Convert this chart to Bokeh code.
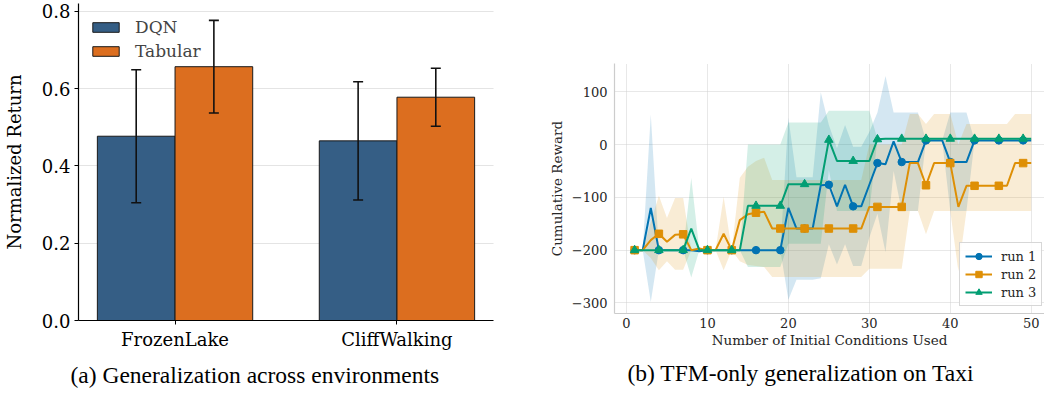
from bokeh.plotting import figure
from bokeh.layouts import row, column
from bokeh.models import (ColumnDataSource, Whisker, TeeHead, Range1d, FixedTicker,
                          PrintfTickFormatter, Title)
from bokeh.embed import file_html
from bokeh.resources import INLINE

# ---------------- data: panel (a) ----------------
envs = ["FrozenLake", "CliffWalking"]
dqn_mean = [0.477, 0.465]
dqn_err = [0.172, 0.153]
tab_mean = [0.657, 0.578]
tab_err = [0.120, 0.075]
a_yticks = [0.0, 0.2, 0.4, 0.6, 0.8]

# ---------------- data: panel (b) ----------------
n_used = list(range(1, 51))
run1 = [-200, -200, -120, -200, -200, -200, -200, -200, -202, -200,
        -200, -200, -200, -200, -200, -200, -200, -200, -200, -120,
        -159, -159, -159, -77, -76, -117, -76, -117, -117, -76,
        -35, -37, 6, -33, -33, -33, 8, 8, 8, -33,
        -33, -33, 8, 8, 8, 8, 8, 8, 8, 8]
run1_lo = [-200, -200, -298, -200, -200, -200, -200, -200, -202, -200,
           -200, -200, -200, -200, -200, -200, -200, -200, -200, -294,
           -256, -256, -256, -253, -189, -227, -189, -230, -230, -176,
           -131, -204, -50, -126, -126, -126, 8, 8, 8, -126,
           -126, -126, 8, 8, 8, 8, 8, 8, 8, 8]
run1_hi = [-200, -200, 57, -200, -200, -200, -200, -200, -202, -200,
           -200, -200, -200, -200, -200, -200, -200, -200, -200, 51,
           -62, -62, -62, 99, 37, -7, 37, -4, -4, 24,
           61, 130, 61, 61, 61, 61, 8, 8, 8, 61,
           61, 61, 8, 8, 8, 8, 8, 8, 8, 8]
run2 = [-200, -200, -181, -169, -184, -171, -170, -200, -197, -200,
        -200, -169, -200, -143, -132, -129, -127, -159, -159, -159,
        -159, -159, -159, -159, -159, -159, -159, -159, -159, -118,
        -118, -118, -118, -118, -35, -35, -77, -35, -35, -35,
        -118, -78, -78, -78, -78, -78, -78, -35, -35, -35]
run2_lo = [-200, -200, -215, -238, -221, -237, -237, -200, -197, -200,
           -200, -238, -200, -221, -228, -230, -232, -251, -251, -251,
           -251, -251, -251, -251, -251, -251, -251, -251, -251, -235,
           -235, -235, -235, -235, -126, -126, -170, -126, -126, -126,
           -240, -126, -126, -126, -126, -126, -126, -126, -126, -126]
run2_hi = [-200, -200, -147, -97, -139, -101, -101, -200, -197, -200,
           -200, -99, -200, -63, -42, -31, -25, -67, -67, -67,
           -67, -67, -67, -67, -67, -67, -67, -67, -67, 0,
           0, 0, 0, 0, 58, 58, 39, 58, 58, 58,
           0, 39, 39, 39, 39, 39, 39, 58, 58, 58]
run3 = [-200, -200, -200, -200, -200, -200, -200, -159, -200, -200,
        -200, -200, -200, -200, -116, -116, -116, -116, -116, -75,
        -75, -75, -75, -75, 9, -31, -31, -31, -31, -31,
        10, 11, 11, 11, 11, 11, 11, 11, 11, 11,
        11, 11, 11, 11, 11, 11, 11, 11, 11, 11]
run3_lo = [-200, -200, -200, -200, -200, -200, -200, -252, -200, -200,
           -200, -200, -200, -200, -232, -232, -232, -232, -232, -188,
           -188, -188, -188, -188, -48, -126, -126, -126, -126, -126,
           10, 11, 11, 11, 11, 11, 11, 11, 11, 11,
           11, 11, 11, 11, 11, 11, 11, 11, 11, 11]
run3_hi = [-200, -200, -200, -200, -200, -200, -200, -63, -200, -200,
           -200, -200, -200, -200, 0, 0, 0, 0, 0, 42,
           42, 42, 42, 42, 64, 64, 64, 64, 64, 64,
           10, 11, 11, 11, 11, 11, 11, 11, 11, 11,
           11, 11, 11, 11, 11, 11, 11, 11, 11, 11]
run_names = ["run 1", "run 2", "run 3"]
b_xticks = [0, 10, 20, 30, 40, 50]
b_yticks = [-300, -200, -100, 0, 100]

cap_a = "(a) Generalization across environments"
cap_b = "(b) TFM-only generalization on Taxi"

SERIF = "DejaVu Serif"
CAP_FONT = "Liberation Serif"

# ======================= panel (a) =======================
p1 = figure(width=530, height=394, min_border_left=73, min_border_right=37,
            min_border_top=3, min_border_bottom=73, title=None,
            x_range=Range1d(-0.435, 1.435), y_range=Range1d(0, 0.8206),
            output_backend="svg", toolbar_location=None)
p1.outline_line_color = None

bw = 0.35
xi = list(range(len(envs)))
src_d = ColumnDataSource(dict(x=[i - bw / 2 for i in xi], top=dqn_mean,
                              lo=[m - e for m, e in zip(dqn_mean, dqn_err)],
                              hi=[m + e for m, e in zip(dqn_mean, dqn_err)]))
src_t = ColumnDataSource(dict(x=[i + bw / 2 for i in xi], top=tab_mean,
                              lo=[m - e for m, e in zip(tab_mean, tab_err)],
                              hi=[m + e for m, e in zip(tab_mean, tab_err)]))
p1.vbar(x="x", top="top", width=bw, source=src_d, fill_color="#355E85",
        line_color="#1a1a1a", line_width=1, legend_label="DQN")
p1.vbar(x="x", top="top", width=bw, source=src_t, fill_color="#DC6E1F",
        line_color="#1a1a1a", line_width=1, legend_label="Tabular")
for s in (src_d, src_t):
    w = Whisker(source=s, base="x", upper="hi", lower="lo", line_color="#111111",
                line_width=1.6, level="overlay",
                upper_head=TeeHead(size=10, line_width=1.6, line_color="#111111"),
                lower_head=TeeHead(size=10, line_width=1.6, line_color="#111111"))
    p1.add_layout(w)

p1.xgrid.visible = False
p1.ygrid.grid_line_color = "#c8c8c8"
p1.ygrid.grid_line_dash = "1 1"
p1.ygrid.ticker = FixedTicker(ticks=a_yticks)

p1.xaxis.ticker = FixedTicker(ticks=xi)
p1.xaxis.major_label_overrides = {i: n for i, n in zip(xi, envs)}
p1.yaxis.ticker = FixedTicker(ticks=a_yticks)
p1.yaxis.formatter = PrintfTickFormatter(format="%.1f")
p1.yaxis.axis_label = "Normalized Return"
for ax in (p1.xaxis[0], p1.yaxis[0]):
    ax.axis_line_color = "black"
    ax.axis_line_width = 1.2
    ax.major_tick_line_color = "black"
    ax.major_tick_out = 4
    ax.major_tick_in = 0
    ax.minor_tick_line_color = None
    ax.minor_tick_out = 0
    ax.major_label_text_font = SERIF
    ax.major_label_text_font_size = "18px"
    ax.major_label_text_color = "black"
    ax.major_label_standoff = 4
    ax.axis_label_text_font = SERIF
    ax.axis_label_text_font_size = "18px"
    ax.axis_label_text_font_style = "normal"
    ax.axis_label_text_color = "black"
p1.yaxis.axis_label_standoff = 14

lg = p1.legend[0]
lg.location = (11, 259)
lg.border_line_color = None
lg.background_fill_alpha = 0
lg.label_text_font = SERIF
lg.label_text_font_size = "17px"
lg.glyph_width = 33
lg.glyph_height = 12
lg.label_height = 20
lg.spacing = 4
lg.padding = 4
lg.margin = 0
lg.label_standoff = 13

p1.add_layout(Title(text=cap_a, align="left", offset=-8, standoff=14,
                    text_font=CAP_FONT, text_font_size="23.5px",
                    text_font_style="normal", text_color="black"), "below")

# ======================= panel (b) =======================
p2 = figure(width=514, height=394, min_border_left=84, min_border_right=0,
            min_border_top=63, min_border_bottom=81, title=None,
            x_range=Range1d(-1.483, 51.64), y_range=Range1d(-320, 153.7),
            output_backend="svg", toolbar_location=None)
p2.outline_line_color = None

colors = ["#0173B2", "#DE8F05", "#029E73"]
runs = [run1, run2, run3]
los = [run1_lo, run2_lo, run3_lo]
his = [run1_hi, run2_hi, run3_hi]
markers = ["circle", "square", "triangle"]
msizes = [7.5, 7.5, 8.5]

for c, lo, hi in zip(colors, los, his):
    p2.varea(x=n_used, y1=lo, y2=hi, fill_color=c, fill_alpha=0.17)

for name, c, r, m, ms in zip(run_names, colors, runs, markers, msizes):
    p2.line(n_used, r, line_color=c, line_width=2, legend_label=name)
    p2.scatter(n_used[::3], r[::3], marker=m, size=ms, fill_color=c, line_color=c,
               legend_label=name)

p2.xgrid.ticker = FixedTicker(ticks=b_xticks)
p2.ygrid.ticker = FixedTicker(ticks=b_yticks)
for g in (p2.xgrid[0], p2.ygrid[0]):
    g.grid_line_color = "#d0d0d0"
    g.grid_line_dash = "1 1"
    g.grid_line_width = 1

p2.xaxis.ticker = FixedTicker(ticks=b_xticks)
p2.yaxis.ticker = FixedTicker(ticks=b_yticks)
p2.yaxis.major_label_overrides = {t: str(t).replace("-", "\u2212") for t in b_yticks}
p2.xaxis.axis_label = "Number of Initial Conditions Used"
p2.yaxis.axis_label = "Cumulative Reward"
for ax in (p2.xaxis[0], p2.yaxis[0]):
    ax.axis_line_color = "#cccccc"
    ax.axis_line_width = 1.2
    ax.major_tick_line_color = None
    ax.minor_tick_line_color = None
    ax.major_tick_out = 0
    ax.minor_tick_out = 0
    ax.major_label_text_font = SERIF
    ax.major_label_text_font_size = "13px"
    ax.major_label_text_color = "#262626"
    ax.major_label_standoff = 7
    ax.axis_label_text_font = SERIF
    ax.axis_label_text_font_size = "13.5px"
    ax.axis_label_text_font_style = "normal"
    ax.axis_label_text_color = "#262626"
p2.xaxis.major_label_standoff = 4
p2.xaxis.axis_label_standoff = 1
p2.yaxis.axis_label_standoff = 4

lg2 = p2.legend[0]
lg2.location = (345, 7)
lg2.border_line_color = "#b0b0b0"
lg2.border_line_width = 1
lg2.background_fill_color = "white"
lg2.background_fill_alpha = 0.85
lg2.label_text_font = SERIF
lg2.label_text_font_size = "13px"
lg2.label_text_color = "#262626"
lg2.glyph_width = 27
lg2.glyph_height = 16
lg2.label_height = 16
lg2.spacing = 2
lg2.padding = 5
lg2.margin = 0
lg2.label_standoff = 9

p2.add_layout(Title(text=cap_b, align="left", offset=13, standoff=14,
                    text_font=CAP_FONT, text_font_size="23.5px",
                    text_font_style="normal", text_color="black"), "below")

layout = row(column(p1), column(p2))
open("out.html", "w").write(file_html(layout, INLINE))
